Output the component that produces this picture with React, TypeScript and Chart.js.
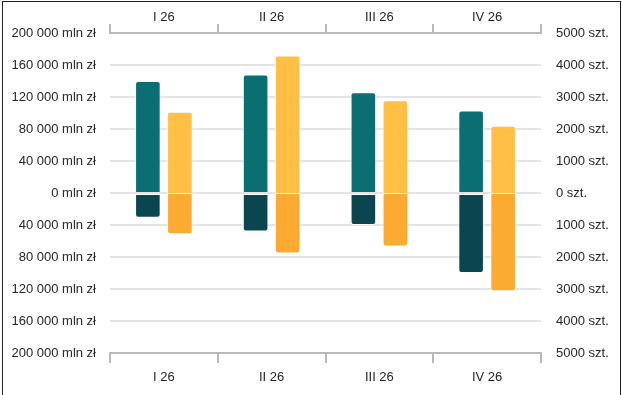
import React, { useEffect, useRef } from "react";
import { Chart, registerables } from "chart.js";

Chart.register(...registerables);

const categories = ["I 26", "II 26", "III 26", "IV 26"];
const valuePositive = [140000, 148000, 126000, 103000];
const valueNegative = [-31000, -48000, -40000, -100000];
const unitsPositive = [2540, 4300, 2900, 2100];
const unitsNegative = [-1290, -1890, -1670, -3070];

const FONT = { family: "'Liberation Sans', Arial, sans-serif", size: 13 };
const TEXT = "#262626";
const AXIS = "#b9b9b9";
const GRID = "#e4e4e4";

function fmtThousands(v: number): string {
  return String(Math.abs(v)).replace(/\B(?=(\d{3})+(?!\d))/g, " ");
}

export default function App() {
  const ref = useRef<HTMLCanvasElement | null>(null);

  useEffect(() => {
    if (!ref.current) return;
    const topR = { topLeft: 3, topRight: 3, bottomLeft: 0, bottomRight: 0 };
    const botR = { topLeft: 0, topRight: 0, bottomLeft: 3, bottomRight: 3 };
    const common = {
      borderColor: "rgba(255,255,255,0.7)",
      categoryPercentage: 0.594,
      barPercentage: 0.8,
    };
    const posBorder = { top: 1, left: 1, right: 1, bottom: 0 };
    const negBorder = { top: 1, left: 1, right: 1, bottom: 1 };
    const chart = new Chart(ref.current, {
      type: "bar",
      data: {
        labels: categories,
        datasets: [
          { ...common, label: "mln zł +", data: valuePositive, backgroundColor: "#0a6e73", yAxisID: "y", stack: "a", borderRadius: topR, borderWidth: posBorder, borderSkipped: false },
          { ...common, label: "mln zł -", data: valueNegative, backgroundColor: "#0b4650", yAxisID: "y", stack: "a", borderRadius: botR, borderWidth: negBorder, borderSkipped: false },
          { ...common, label: "szt. +", data: unitsPositive, backgroundColor: "#ffc045", yAxisID: "y1", stack: "b", borderRadius: topR, borderWidth: posBorder, borderSkipped: false },
          { ...common, label: "szt. -", data: unitsNegative, backgroundColor: "#fbaa32", yAxisID: "y1", stack: "b", borderRadius: botR, borderWidth: negBorder, borderSkipped: false },
        ],
      },
      options: {
        responsive: false,
        animation: false,
        layout: { padding: 0 },
        plugins: { legend: { display: false }, tooltip: { enabled: false } },
        scales: {
          x: {
            type: "category",
            position: "bottom",
            stacked: true,
            offset: true,
            grid: { offset: true, drawOnChartArea: false, drawTicks: true, tickLength: 10, color: AXIS, lineWidth: 2 },
            border: { display: true, color: AXIS, width: 2 },
            ticks: { font: FONT, color: TEXT, padding: 7, maxRotation: 0 },
            afterFit: (s: any) => { s.height = 42; },
          },
          x2: {
            type: "category",
            position: "top",
            labels: categories,
            offset: true,
            grid: { offset: true, drawOnChartArea: false, drawTicks: true, tickLength: 9, color: AXIS, lineWidth: 2 },
            border: { display: true, color: AXIS, width: 2 },
            ticks: { font: FONT, color: TEXT, padding: -1, maxRotation: 0 },
            afterFit: (s: any) => { s.height = 33; },
          },
          y: {
            type: "linear",
            position: "left",
            stacked: true,
            min: -200000,
            max: 200000,
            ticks: {
              stepSize: 40000,
              font: FONT,
              color: TEXT,
              padding: 14,
              callback: (v: any) => fmtThousands(Number(v)) + " mln zł",
            },
            grid: { color: GRID, lineWidth: 2, drawTicks: false },
            border: { display: false },
            afterFit: (s: any) => { s.width = 110; },
          },
          y1: {
            type: "linear",
            position: "right",
            stacked: true,
            min: -5000,
            max: 5000,
            ticks: {
              stepSize: 1000,
              font: FONT,
              color: TEXT,
              padding: 15,
              callback: (v: any) => Math.abs(Number(v)) + " szt.",
            },
            grid: { display: false, drawTicks: false },
            border: { display: false },
            afterFit: (s: any) => { s.width = 81; },
          },
        },
      },
    });
    return () => chart.destroy();
  }, []);

  return (
    <div style={{ position: "fixed", left: 0, top: 0, width: 622, height: 395, background: "#fff", overflow: "hidden" }}>
      <canvas ref={ref} width={622} height={395} style={{ position: "absolute", left: 0, top: 0, width: 622, height: 395 }} />
      <div
        style={{
          position: "absolute",
          left: 2,
          top: 1,
          width: 617,
          height: 410,
          borderTop: "1px solid #222",
          borderLeft: "1px solid #222",
          borderRight: "1px solid #222",
          pointerEvents: "none",
        }}
      />
    </div>
  );
}
